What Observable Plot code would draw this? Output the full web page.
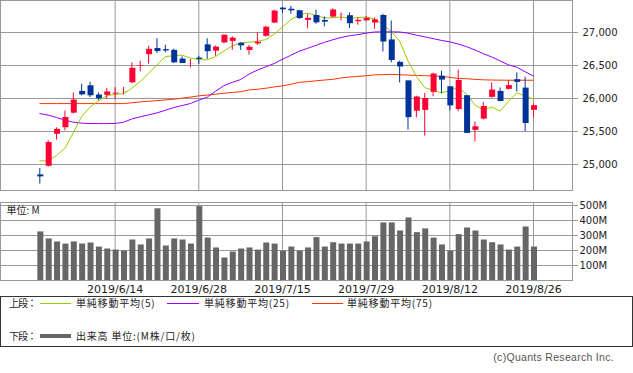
<!DOCTYPE html>
<html><head><meta charset="utf-8">
<script src="https://cdn.jsdelivr.net/npm/d3@7"></script>
<script src="https://cdn.jsdelivr.net/npm/@observablehq/plot@0.6"></script>
<style>
body{margin:0;background:#fff;}
#wrap{position:relative;width:633px;height:373px;overflow:hidden;font-family:"DejaVu Sans",sans-serif;color:#222;}
#wrap svg{position:absolute;left:0;}
.lg{position:absolute;font-family:"Noto Sans CJK JP",sans-serif;font-size:10px;line-height:12px;white-space:nowrap;color:#222;letter-spacing:0.8px;}
.ln{position:absolute;height:1px;}
#legendbox{position:absolute;left:0;top:296px;width:633px;height:51px;box-sizing:border-box;border:1px solid #333;}
#copy{position:absolute;right:19px;top:351px;font-family:"Liberation Sans",sans-serif;font-size:10.5px;color:#555;letter-spacing:0.3px;}
</style></head><body><div id="wrap"></div>
<script>
const dates = ["2019/6/3","2019/6/4","2019/6/5","2019/6/6","2019/6/7","2019/6/10","2019/6/11","2019/6/12","2019/6/13","2019/6/14",
"2019/6/17","2019/6/18","2019/6/19","2019/6/20","2019/6/21","2019/6/24","2019/6/25","2019/6/26","2019/6/27","2019/6/28",
"2019/7/1","2019/7/2","2019/7/3","2019/7/5","2019/7/8","2019/7/9","2019/7/10","2019/7/11","2019/7/12","2019/7/15",
"2019/7/16","2019/7/17","2019/7/18","2019/7/19","2019/7/22","2019/7/23","2019/7/24","2019/7/25","2019/7/26","2019/7/29",
"2019/7/30","2019/7/31","2019/8/1","2019/8/2","2019/8/5","2019/8/6","2019/8/7","2019/8/8","2019/8/9","2019/8/12",
"2019/8/13","2019/8/14","2019/8/15","2019/8/16","2019/8/19","2019/8/20","2019/8/21","2019/8/22","2019/8/23","2019/8/26"];
const open  = [24835,24965,25450,25550,25770,26100,26185,26045,26040,26060,26095,26230,26478,26656,26750,26733,26722,26590,26515,26605,
26805,26710,26835,26858,26830,26720,26820,26935,27135,27362,27345,27322,27176,27250,27175,27226,27252,27247,27156,27170,
27136,27250,26880,26540,26260,25800,25812,26085,26330,26170,25825,26035,25510,25680,26010,26100,26131,26277,26150,25813];
const high  = [24940,25360,25555,25810,26085,26216,26247,26085,26155,26165,26166,26540,26565,26792,26907,26807,26748,26630,26590,26640,
26905,26795,26966,26935,26845,26807,26995,27095,27340,27380,27398,27337,27277,27340,27236,27360,27297,27297,27221,27245,
27221,27277,27175,26565,26262,26035,26075,26385,26413,26175,26429,26040,25646,25940,26237,26161,26267,26388,26323,25920];
const low   = [24702,24960,25370,25510,25765,26040,26015,25965,25990,25985,26055,26225,26404,26520,26681,26691,26530,26530,26465,26515,
26595,26640,26830,26730,26730,26656,26802,26930,27135,27290,27277,27196,27055,27125,27085,27220,27176,27060,27110,27165,
27050,26706,26540,26237,25520,25706,25430,26025,26075,25813,25800,25470,25340,25675,26005,25950,26128,26100,25495,25707];
const close = [24820,25340,25540,25720,25984,26063,26049,26005,26107,26090,26113,26466,26504,26753,26719,26728,26548,26537,26527,26600,
26717,26787,26966,26922,26806,26783,26860,27088,27332,27352,27336,27220,27223,27154,27165,27349,27270,27141,27192,27221,
27198,26864,26583,26485,25718,26030,26007,26378,26287,25896,26280,25479,25579,25886,26136,25962,26203,26252,25629,25899];
const volume = [324,277,257,243,257,243,250,223,210,203,196,270,237,277,478,230,277,270,243,493,
283,217,150,190,210,217,203,250,243,196,223,196,217,286,223,252,243,243,243,257,
292,384,384,330,417,319,344,283,237,196,306,350,330,270,252,237,203,223,357,223];
const ma5 = [25056,25054,25137,25247,25481,25729,25871,25964,26042,26063,26073,26156,26256,26385,26511,26634,26650,26657,26612,26588,
26586,26634,26719,26798,26840,26853,26867,26892,26974,27084,27195,27267,27294,27258,27221,27224,27234,27217,27225,27235,
27204,27123,27012,26870,26570,26336,26165,26124,26084,26120,26170,26064,25904,25824,25872,25808,25953,26088,26036,25989];
const ma25 = [25772,25748,25712,25672,25642,25626,25621,25620,25620,25622,25640,25690,25722,25752,25782,25822,25863,25893,25924,25974,
26020,26110,26195,26245,26287,26370,26430,26480,26530,26595,26655,26716,26760,26805,26850,26890,26925,26950,26968,26990,
27008,27010,27010,27008,26990,26960,26935,26908,26880,26858,26825,26785,26735,26680,26630,26570,26510,26475,26405,26340];
const ma75 = [25923,25923,25923,25923,25923,25923,25923,25923,25923,25923,25923,25935,25948,25958,25968,25978,25989,26005,26022,26040,
26052,26065,26080,26092,26102,26130,26140,26155,26175,26192,26215,26245,26255,26268,26280,26290,26312,26325,26335,26345,
26358,26362,26366,26360,26355,26350,26346,26340,26336,26320,26305,26300,26290,26283,26280,26278,26277,26277,26277,26277];
const priceTicks = [25000,25500,26000,26500,27000];
const volumeTicks = [100,200,300,400,500];
const dateTickIdx = [9,19,29,39,49,59];

const rows = dates.map((d,i)=>({i, date:d, open:open[i], high:high[i], low:low[i], close:close[i],
  volume:volume[i], ma5:ma5[i], ma25:ma25[i], ma75:ma75[i], up: close[i] >= open[i]}));
const upRows = rows.filter(d=>d.up), downRows = rows.filter(d=>!d.up);
const UP="#ff0033", DOWN="#003399", GRID="#999999";
const xDomain=[-4.7, 63.66];
const baseStyle = {fontFamily:'"DejaVu Sans", sans-serif', fontSize:"10px", color:"#222", background:"transparent", overflow:"visible"};

const topChart = Plot.plot({
  width:633, height:191, marginLeft:0, marginRight:61, marginTop:0, marginBottom:1,
  x:{domain:xDomain, axis:null},
  y:{domain:[24606,27485], axis:null},
  style: baseStyle,
  marks:[
    Plot.ruleY(priceTicks,{stroke:GRID}),
    Plot.ruleX(dateTickIdx,{stroke:GRID}),
    Plot.frame({stroke:GRID}),
    Plot.axisY(priceTicks,{anchor:"right", label:null, tickSize:5, tickPadding:5, stroke:GRID, tickFormat:d3.format(",")}),
    Plot.line(rows,{x:"i", y:"ma75", stroke:"#ff3300", strokeWidth:1}),
    Plot.line(rows,{x:"i", y:"ma25", stroke:"#9900ff", strokeWidth:1}),
    Plot.line(rows,{x:"i", y:"ma5", stroke:"#99cc00", strokeWidth:1}),
    Plot.ruleX(upRows,{x:"i", y1:"low", y2:"high", stroke:UP}),
    Plot.ruleX(downRows,{x:"i", y1:"low", y2:"high", stroke:DOWN}),
    Plot.ruleX(upRows,{x:"i", y1:"open", y2:"close", stroke:UP, strokeWidth:6, dx:0.5, insetTop:-0.5, insetBottom:-0.5}),
    Plot.ruleX(downRows,{x:"i", y1:"open", y2:"close", stroke:DOWN, strokeWidth:6, dx:0.5, insetTop:-0.5, insetBottom:-0.5})
  ]
});
topChart.style.top = "0px";

const volChart = Plot.plot({
  width:633, height:110, marginLeft:0, marginRight:61, marginTop:12, marginBottom:20,
  x:{domain:xDomain, axis:null},
  y:{domain:[0,520], axis:null},
  style: baseStyle,
  marks:[
    Plot.ruleY(volumeTicks,{stroke:GRID}),
    Plot.ruleX(dateTickIdx,{stroke:GRID}),
    Plot.frame({stroke:GRID}),
    Plot.ruleX(rows,{x:"i", y1:0, y2:"volume", stroke:"#666666", strokeWidth:6, dx:0.5}),
    Plot.axisY(volumeTicks,{anchor:"right", label:null, tickSize:5, tickPadding:2, stroke:GRID, tickFormat:d=>d+"M"}),
    Plot.axisX(dateTickIdx,{anchor:"bottom", label:null, tickSize:0, tickPadding:5, fontSize:11, tickFormat:i=>dates[i]}),
    Plot.text(["単位: M"],{frameAnchor:"top-left", dx:6, dy:8, lineAnchor:"middle", textAnchor:"start",
      fontFamily:'"Noto Sans CJK JP", sans-serif', fontSize:10, fill:"#222"})
  ]
});
volChart.style.top = "190px";

const wrap = document.getElementById("wrap");
wrap.appendChild(topChart);
wrap.appendChild(volChart);

// legend
const legendRows = [
  {label:"上段：", y:303, items:[
    {color:"#99cc00", x1:40, x2:71, text:"単純移動平均(5)", tx:76, h:1},
    {color:"#9900ff", x1:167, x2:199, text:"単純移動平均(25)", tx:204, h:1},
    {color:"#ff3300", x1:312, x2:343, text:"単純移動平均(75)", tx:347, h:1}]},
  {label:"下段：", y:336, items:[
    {color:"#666666", x1:40, x2:71, text:"出来高 単位:(M株/口/枚)", tx:76, h:4}]}
];
const box = document.createElement("div"); box.id = "legendbox"; wrap.appendChild(box);
for (const r of legendRows) {
  const l = document.createElement("div"); l.className = "lg"; l.textContent = r.label;
  l.style.left = "9px"; l.style.top = (r.y - 6) + "px"; l.style.letterSpacing = "-1px"; wrap.appendChild(l);
  for (const it of r.items) {
    const ln = document.createElement("div"); ln.className = "ln";
    ln.style.left = it.x1 + "px"; ln.style.width = (it.x2 - it.x1) + "px";
    ln.style.height = it.h + "px"; ln.style.top = (r.y - Math.floor(it.h/2)) + "px"; ln.style.background = it.color;
    wrap.appendChild(ln);
    const t = document.createElement("div"); t.className = "lg"; t.textContent = it.text;
    t.style.left = it.tx + "px"; t.style.top = (r.y - 6) + "px"; wrap.appendChild(t);
  }
}
const cp = document.createElement("div"); cp.id = "copy"; cp.textContent = "(c)Quants Research Inc."; wrap.appendChild(cp);
</script></body></html>
